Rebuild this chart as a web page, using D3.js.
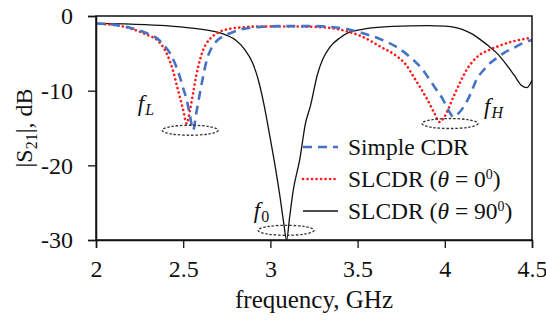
<!DOCTYPE html>
<html lang="en">
<head>
<meta charset="UTF-8">
<title>S21 vs frequency</title>
<script src="https://d3js.org/d3.v7.min.js"></script>
<style>
    body { margin: 0; background: #fff; }
    svg text { font-family: "Liberation Serif"; fill: #111; }
</style>
</head>
<body>
<script>
    const width = 546, height = 320;
    const margin = {top: 16, right: 14, bottom: 80, left: 96};
    const serif = '"Liberation Serif"';

    // tick labels
    const xTicks = [2, 2.5, 3, 3.5, 4, 4.5];
    const yTicks = [0, -10, -20, -30];

    // Simple CDR
    const simpleF = [2.0, 2.1, 2.2, 2.3, 2.35, 2.4, 2.425, 2.45, 2.48, 2.5, 2.52, 2.54, 2.557, 2.575, 2.596, 2.615, 2.635, 2.66, 2.69, 2.73, 2.77, 2.85, 2.95, 3.1, 3.25, 3.34, 3.45, 3.53, 3.63, 3.72, 3.82, 3.87, 3.915, 3.95, 3.99, 4.02, 4.05, 4.08, 4.11, 4.15, 4.18, 4.22, 4.26, 4.3, 4.335, 4.41, 4.45, 4.5];
    const simpleS = [-1.0, -1.15, -1.6, -2.4, -3.0, -4.2, -5.0, -6.2, -8.1, -9.7, -11.2, -13.5, -15.3, -13.0, -10.3, -8.0, -5.9, -4.4, -3.4, -2.7, -2.3, -1.7, -1.45, -1.35, -1.35, -1.45, -1.8, -2.3, -3.1, -4.1, -5.9, -7.1, -8.6, -9.8, -11.2, -12.6, -13.5, -13.0, -12.1, -10.3, -8.6, -7.3, -6.3, -5.6, -5.0, -4.1, -3.6, -3.2];

    // SLCDR theta = 0
    const sl0F = [2.0, 2.1, 2.155, 2.25, 2.3, 2.35, 2.38, 2.405, 2.44, 2.47, 2.5, 2.52, 2.54, 2.557, 2.575, 2.596, 2.615, 2.635, 2.67, 2.71, 2.77, 2.85, 2.95, 3.1, 3.25, 3.34, 3.43, 3.53, 3.63, 3.725, 3.78, 3.82, 3.86, 3.9, 3.94, 3.97, 4.0, 4.05, 4.09, 4.125, 4.16, 4.2, 4.25, 4.3, 4.39, 4.45, 4.5];
    const sl0S = [-1.0, -1.2, -1.4, -2.1, -2.6, -3.2, -4.0, -5.0, -7.2, -9.9, -12.6, -14.4, -12.5, -10.3, -8.0, -5.9, -4.5, -3.6, -2.7, -2.1, -1.7, -1.5, -1.4, -1.4, -1.45, -1.6, -2.0, -2.8, -4.1, -5.4, -6.6, -8.1, -9.6, -11.2, -13.0, -14.2, -13.4, -10.8, -8.8, -7.2, -6.1, -5.2, -4.6, -4.1, -3.4, -3.1, -2.9];

    // SLCDR theta = 90
    const sl90F = [2.0, 2.2, 2.4, 2.5, 2.6, 2.7, 2.75, 2.8, 2.85, 2.9, 2.93, 2.96, 3.0, 3.03, 3.055, 3.075, 3.093, 3.11, 3.13, 3.17, 3.2, 3.23, 3.27, 3.3, 3.34, 3.4, 3.45, 3.55, 3.7, 3.9, 4.0, 4.07, 4.12, 4.17, 4.2, 4.25, 4.3, 4.35, 4.4, 4.44, 4.47, 4.5];
    const sl90S = [-1.0, -1.1, -1.3, -1.5, -1.75, -2.2, -2.6, -3.2, -4.4, -6.4, -8.5, -11.5, -16.5, -20.5, -24.2, -27.5, -30.0, -27.0, -23.5, -19.0, -14.5, -12.0, -7.8, -5.8, -4.2, -2.9, -2.2, -1.7, -1.4, -1.3, -1.35, -1.6, -2.0, -2.6, -3.1, -4.0, -5.0, -6.4, -8.0, -9.3, -9.6, -8.6];

    // annotation ellipses (centre in data units) and labels
    const markF = [2.54, 4.03, 3.09];
    const markS = [-15.3, -14.4, -28.7];
    const labelF = [2.24, 4.225, 2.905];
    const labelS = [-12.7, -13.1, -27.0];
    const labelSub = ["L", "H", "0"];

    const series = [
        {name: "Simple CDR", f: simpleF, s: simpleS, color: "#4472c4", w: 2.6, dash: "9,6", cap: "butt"},
        {name: "sl0", f: sl0F, s: sl0S, color: "#ff1a1a", w: 2.6, dash: "0.1,4.4", cap: "round"},
        {name: "sl90", f: sl90F, s: sl90S, color: "#111", w: 1.3, dash: null, cap: "butt"}
    ];

    const x = d3.scaleLinear().domain([2, 4.5]).range([margin.left, width - margin.right]);
    const y = d3.scaleLinear().domain([-30, 0]).range([height - margin.bottom, margin.top]);

    const svg = d3.select("body").append("svg")
        .attr("width", width)
        .attr("height", height)
        .style("font-family", serif);

    svg.append("defs").append("clipPath").attr("id", "clip")
        .append("rect")
        .attr("x", margin.left).attr("y", margin.top)
        .attr("width", x(4.5) - x(2)).attr("height", y(-30) - y(0));

    const line = d3.line()
        .x(d => x(d[0]))
        .y(d => y(d[1]))
        .curve(d3.curveMonotoneX);

    const plot = svg.append("g").attr("clip-path", "url(#clip)");

    [series[2], series[1], series[0]].forEach(sr => {
        plot.append("path")
            .datum(sr.f.map((f, i) => [f, sr.s[i]]))
            .attr("fill", "none")
            .attr("stroke", sr.color)
            .attr("stroke-width", sr.w)
            .attr("stroke-dasharray", sr.dash)
            .attr("stroke-linecap", sr.cap)
            .attr("d", line);
    });

    // ellipses
    svg.selectAll("ellipse.mark")
        .data(markF)
        .enter().append("ellipse")
        .attr("class", "mark")
        .attr("cx", d => x(d))
        .attr("cy", (d, i) => y(markS[i]))
        .attr("rx", 28)
        .attr("ry", 5)
        .attr("fill", "none")
        .attr("stroke", "#333")
        .attr("stroke-width", 1.3)
        .attr("stroke-dasharray", "2.5,1.8");

    // f labels
    labelF.forEach((f, i) => {
        const t = svg.append("text")
            .attr("x", x(f))
            .attr("y", y(labelS[i]))
            .style("font-size", "23px");
        t.append("tspan").style("font-style", "italic").text("f");
        t.append("tspan")
            .attr("dy", 4)
            .attr("dx", 1)
            .style("font-size", "16px")
            .style("font-style", labelSub[i] === "0" ? "normal" : "italic")
            .text(labelSub[i]);
    });

    // frame
    svg.append("rect")
        .attr("x", margin.left).attr("y", margin.top)
        .attr("width", x(4.5) - x(2)).attr("height", y(-30) - y(0))
        .attr("fill", "none")
        .attr("stroke", "#111")
        .attr("stroke-width", 1.5);

    // axes
    const xAxis = svg.append("g")
        .attr("transform", `translate(0,${y(-30)})`)
        .call(d3.axisBottom(x).tickValues(xTicks).tickSize(8).tickPadding(12).tickFormat(d3.format("")));
    const yAxis = svg.append("g")
        .attr("transform", `translate(${margin.left},0)`)
        .call(d3.axisLeft(y).tickValues(yTicks).tickSize(8).tickPadding(15).tickFormat(d3.format("")));

    [xAxis, yAxis].forEach(g => {
        g.attr("font-family", null).attr("font-size", null);
        g.select(".domain").attr("stroke", "#111").attr("stroke-width", 1.5);
        g.selectAll(".tick line").attr("stroke", "#111").attr("stroke-width", 1.3);
        g.selectAll(".tick text")
            .style("font-family", serif)
            .style("font-size", "24px")
            .attr("fill", "#111");
    });
    yAxis.selectAll(".tick text").text(d => d === 0 ? "0" : "-" + Math.abs(d));

    // axis titles
    svg.append("text")
        .attr("x", (x(2) + x(4.5)) / 2)
        .attr("y", 308)
        .attr("text-anchor", "middle")
        .style("font-size", "25px")
        .text("frequency, GHz");

    const yl = svg.append("text")
        .attr("transform", `translate(32,${(y(0) + y(-30)) / 2}) rotate(-90)`)
        .attr("text-anchor", "middle")
        .style("font-size", "24px");
    yl.append("tspan").text("|S");
    yl.append("tspan").attr("dy", 5).style("font-size", "16px").text("21");
    yl.append("tspan").attr("dy", -5).text("|, dB");

    // legend
    const legend = svg.append("g").attr("transform", "translate(303,147)");
    const legendRows = [
        {sr: series[0], parts: [["Simple CDR", "normal", 0]]},
        {sr: series[1], parts: [["SLCDR (", "normal", 0], ["θ", "italic", 0], [" = 0", "normal", 0], ["0", "normal", -8], [")", "normal", 8]]},
        {sr: series[2], parts: [["SLCDR (", "normal", 0], ["θ", "italic", 0], [" = 90", "normal", 0], ["0", "normal", -8], [")", "normal", 8]]}
    ];
    legendRows.forEach((r, i) => {
        const g = legend.append("g").attr("transform", `translate(0,${i * 32})`);
        g.append("line")
            .attr("x1", 0).attr("x2", 35)
            .attr("stroke", r.sr.color)
            .attr("stroke-width", r.sr.w)
            .attr("stroke-dasharray", r.sr.dash)
            .attr("stroke-linecap", r.sr.cap);
        const t = g.append("text").attr("x", 45).attr("y", 8).style("font-size", "23.5px");
        r.parts.forEach(p => {
            const ts = t.append("tspan").style("font-style", p[1]).attr("dy", p[2]).text(p[0]);
            if (p[2] < 0) ts.style("font-size", "14px");
        });
    });
</script>
</body>
</html>
